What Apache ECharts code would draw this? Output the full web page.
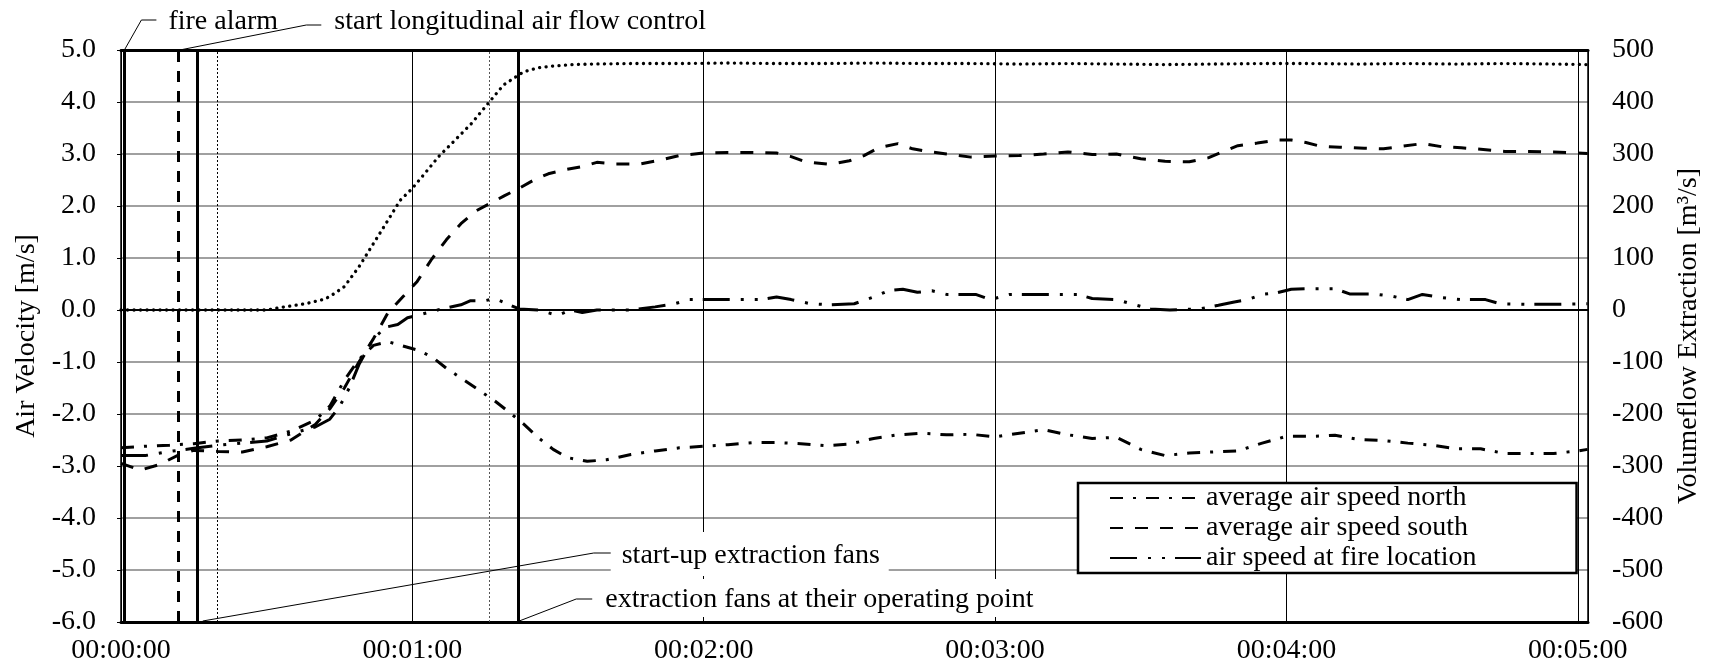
<!DOCTYPE html>
<html><head><meta charset="utf-8">
<script src="https://cdn.jsdelivr.net/npm/echarts@6/dist/echarts.min.js"></script>
<style>html,body{margin:0;padding:0;background:#fff}#c{width:1716px;height:666px}</style>
</head><body><div id="c"></div>
<script>
// ---- data (time in seconds) ----
const xTickLabels = ['00:00:00','00:01:00','00:02:00','00:03:00','00:04:00','00:05:00'];
const seriesNames = ['average air speed north','average air speed south','air speed at fire location'];

const northT = [0,5,10,15,20,25,30,35,40,43,46,49,52,55,58,61,64,67,71,74,77,80,83,86,89,92,96,100,105,110,115,120,125,130,135,140,145,150,155,160,165,170,175,180,185,190,195,200,205,210,215,220,225,230,235,240,245,250,255,260,265,270,275,280,285,290,295,300,302];
const northV = [-2.65,-2.62,-2.6,-2.57,-2.52,-2.5,-2.46,-2.33,-2.12,-1.85,-1.35,-0.95,-0.68,-0.61,-0.69,-0.77,-0.9,-1.12,-1.37,-1.56,-1.75,-1.97,-2.2,-2.46,-2.68,-2.84,-2.91,-2.88,-2.78,-2.71,-2.65,-2.62,-2.59,-2.55,-2.55,-2.57,-2.61,-2.58,-2.47,-2.4,-2.37,-2.4,-2.39,-2.44,-2.37,-2.3,-2.4,-2.47,-2.45,-2.68,-2.8,-2.75,-2.73,-2.71,-2.56,-2.43,-2.43,-2.41,-2.49,-2.51,-2.56,-2.6,-2.67,-2.67,-2.76,-2.76,-2.76,-2.71,-2.68];

const southT = [0,4,8,12,15,20,25,30,35,40,43,46,49,52,55,58,61,64,67,70,73,76,79,82,85,88,91,95,98,102,107,111,115,120,125,130,135,138,141,146,150,153,156,160,163,166,170,175,180,185,190,195,200,205,210,215,220,224,227,230,234,238,241,244,247,251,256,260,264,268,272,276,280,285,290,295,300,302];
const southV = [-2.95,-3.08,-2.97,-2.78,-2.7,-2.72,-2.73,-2.63,-2.5,-2.2,-1.9,-1.5,-1.0,-0.55,-0.05,0.25,0.55,0.98,1.35,1.66,1.9,2.05,2.2,2.34,2.5,2.62,2.69,2.76,2.84,2.81,2.81,2.88,2.97,3.02,3.03,3.03,3.02,2.95,2.85,2.8,2.87,2.97,3.12,3.2,3.1,3.05,3.0,2.94,2.96,2.97,3.0,3.04,2.99,3.0,2.91,2.86,2.85,2.93,3.05,3.16,3.21,3.27,3.27,3.22,3.15,3.13,3.11,3.1,3.15,3.2,3.14,3.12,3.09,3.05,3.05,3.04,3.02,3.01];

const fireT = [0,5,10,15,20,25,30,35,40,43,45,47,49,50,52,54.5,57,59,62,66,70,72,75,77,79,82,86,89,90,92.5,95,98,105,110,114,117,124,132,135,138,142,146,151,155,158,161,164,167,170,176,179,183,190,197,200,205,208,212,216,222,226,229,232,235,238,241,245,250,253,258,262,265,268,272,276,281,284,290,296,302];
const fireV = [-2.8,-2.8,-2.72,-2.66,-2.6,-2.56,-2.52,-2.38,-2.25,-2.1,-1.86,-1.5,-1.05,-0.88,-0.55,-0.33,-0.28,-0.15,-0.08,0.02,0.1,0.18,0.18,0.22,0.14,0.02,0.0,-0.08,-0.1,0.0,-0.05,0.0,0.0,0.06,0.12,0.2,0.2,0.2,0.25,0.2,0.12,0.1,0.12,0.25,0.37,0.4,0.34,0.37,0.3,0.3,0.2,0.3,0.3,0.3,0.22,0.2,0.12,0.02,0.0,0.02,0.09,0.15,0.2,0.3,0.33,0.4,0.41,0.41,0.31,0.31,0.26,0.2,0.3,0.24,0.2,0.2,0.12,0.11,0.11,0.12];

const volT = [0,10,20,30,33,38,42,44,46,49,52,55,57.5,60,62.6,65.4,68.5,72.2,75.3,78.8,82.9,86,89,93,97,105,115,125,135,145,155,165,175,185,195,205,215,225,235,245,255,265,275,285,295,302];
const volV = [0,0,0,0,5,12,21,32,45,83,128,173,211,234,263,295,324,359,394,433,458,466,469,472,473,474,474,475,474,474,475,474,474,473,474,473,472,473,474,474,473,474,473,474,473,472];

// event times (s): fire alarm, start longitudinal control, start-up fans, (dotted), (dotted), fans at operating point
const eventT = [0.7, 11.8, 15.8, 19.8, 75.9, 81.8];
const annotations = ['fire alarm','start longitudinal air flow control','start-up extraction fans','extraction fans at their operating point'];

const FONT = '"Liberation Serif","Times New Roman",serif';
const FS = 28;
const zip = (a,b) => a.map((t,i)=>[t,b[i]]);

const chart = echarts.init(document.getElementById('c'), null, {renderer:'canvas'});
const eventStyles = [
  {color:'#000', width:3, type:'solid'},
  {color:'#000', width:3, type:[11,9]},
  {color:'#000', width:3, type:'solid'},
  {color:'#000', width:1, type:[2,2]},
  {color:'#555', width:1, type:[2,2]},
  {color:'#000', width:3, type:'solid'}
];

const option = {
  animation:false,
  color:['#000'],
  textStyle:{fontFamily:FONT, color:'#000'},
  grid:{left:121, right:128, top:50, bottom:44, containLabel:false},
  legend:{
    data:seriesNames, orient:'vertical', left:1078, top:483,
    itemWidth:91, itemHeight:14, itemGap:0,
    padding:[0,100,0,31],
    itemStyle:{opacity:0},
    borderColor:'#000', borderWidth:2.5, backgroundColor:'#fff',
    textStyle:{fontFamily:FONT, fontSize:FS, color:'#000', lineHeight:30},
    selectedMode:false
  },
  xAxis:[{
    type:'value', min:0, max:302.1, interval:60,
    axisLine:{onZero:false, lineStyle:{color:'#000', width:3}},
    axisTick:{show:false},
    axisLabel:{margin:15, fontFamily:FONT, fontSize:FS, color:'#000',
      formatter:v => (Math.abs(v % 60) < 1e-6 ? xTickLabels[Math.round(v/60)] : '')},
    splitLine:{show:true, lineStyle:{color:'#000', width:1}}
  },{
    type:'value', position:'top', min:0, max:302.1, interval:60,
    axisLine:{onZero:false, lineStyle:{color:'#000', width:3}},
    axisTick:{show:false}, axisLabel:{show:false}, splitLine:{show:false}
  }],
  yAxis:[{
    type:'value', min:-6, max:5, interval:1,
    name:'Air Velocity [m/s]', nameLocation:'middle', nameRotate:90, nameGap:74,
    nameTextStyle:{fontFamily:FONT, fontSize:FS, color:'#000'},
    axisLine:{show:true, onZero:false, lineStyle:{color:'#000', width:1.5}},
    axisTick:{show:true, length:4, lineStyle:{color:'#000'}},
    axisLabel:{margin:25, fontFamily:FONT, fontSize:FS, color:'#000', formatter:v=>v.toFixed(1)},
    splitLine:{show:true, lineStyle:{color:'#808080', width:1.5}}
  },{
    type:'value', min:-600, max:500, interval:100, position:'right',
    name:'Volumeflow Extraction [m³/s]', nameLocation:'middle', nameRotate:90, nameGap:84,
    nameTextStyle:{fontFamily:FONT, fontSize:FS, color:'#000'},
    axisLine:{show:true, onZero:false, lineStyle:{color:'#000', width:1.5}},
    axisTick:{show:false},
    axisLabel:{margin:24, fontFamily:FONT, fontSize:FS, color:'#000'},
    splitLine:{show:false}
  }],
  series:[
    {name:'volumeflow extraction', type:'line', yAxisIndex:1, data:zip(volT,volV), symbol:'none',
     lineStyle:{color:'#000', width:3.3, type:[0.1,6.4], cap:'round'}, z:3,
     markLine:{silent:true, symbol:'none', label:{show:false},
       data:[{yAxis:0, lineStyle:{color:'#000', width:2, type:'solid'}}]
         .concat(eventT.map((t,i)=>({xAxis:t, lineStyle:eventStyles[i]})))}},
    {name:seriesNames[0], type:'line', data:zip(northT,northV), symbol:'none', z:4,
     itemStyle:{color:'#000'}, lineStyle:{color:'#000', width:3, type:[13,10,3,10]}},
    {name:seriesNames[1], type:'line', data:zip(southT,southV), symbol:'none', z:4,
     itemStyle:{color:'#000'}, lineStyle:{color:'#000', width:3, type:[13,12]}},
    {name:seriesNames[2], type:'line', data:zip(fireT,fireV), symbol:'none', z:4,
     itemStyle:{color:'#000'}, lineStyle:{color:'#000', width:3, type:[27,11,3,11,3,10]}}
  ]
};
chart.setOption(option);

// annotations anchored to the event lines
const px = t => chart.convertToPixel({xAxisIndex:0}, t);
const py = v => chart.convertToPixel({yAxisIndex:0}, v);
const yTop = py(5), yBot = py(-6);
const e0 = px(eventT[0]), e1 = px(eventT[1]), e2 = px(eventT[2]), e5 = px(eventT[5]);
const lineSt = {stroke:'#000', lineWidth:1, fill:null};
const txt = (s,x,y) => ({type:'text', z:101, style:{text:s, x:x, y:y, font:FS+'px '+FONT, fill:'#000', verticalAlign:'middle'}});
const graphic = [
  {type:'polyline', z:101, shape:{points:[[e0,yTop],[e0+17,yTop-30],[e0+32,yTop-30]]}, style:lineSt},
  txt(annotations[0], e0+44, yTop-28),
  {type:'polyline', z:101, shape:{points:[[e1+1.5,yTop],[e1+128,yTop-25],[e1+143,yTop-25]]}, style:lineSt},
  txt(annotations[1], e1+156, yTop-28),
  {type:'rect', z:100, shape:{x:e2+413, y:yBot-90, width:278, height:44}, style:{fill:'#fff'}},
  {type:'rect', z:100, shape:{x:e5+80, y:yBot-43, width:450, height:38}, style:{fill:'#fff'}},
  {type:'polyline', z:101, shape:{points:[[e2+5,yBot-1],[e2+396,yBot-69],[e2+413,yBot-69]]}, style:lineSt},
  txt(annotations[2], e2+424, yBot-66),
  {type:'polyline', z:101, shape:{points:[[e5+1,yBot-1],[e5+58,yBot-23],[e5+74,yBot-23]]}, style:lineSt},
  txt(annotations[3], e5+87, yBot-22)
];
chart.setOption({graphic:graphic});
</script></body></html>
